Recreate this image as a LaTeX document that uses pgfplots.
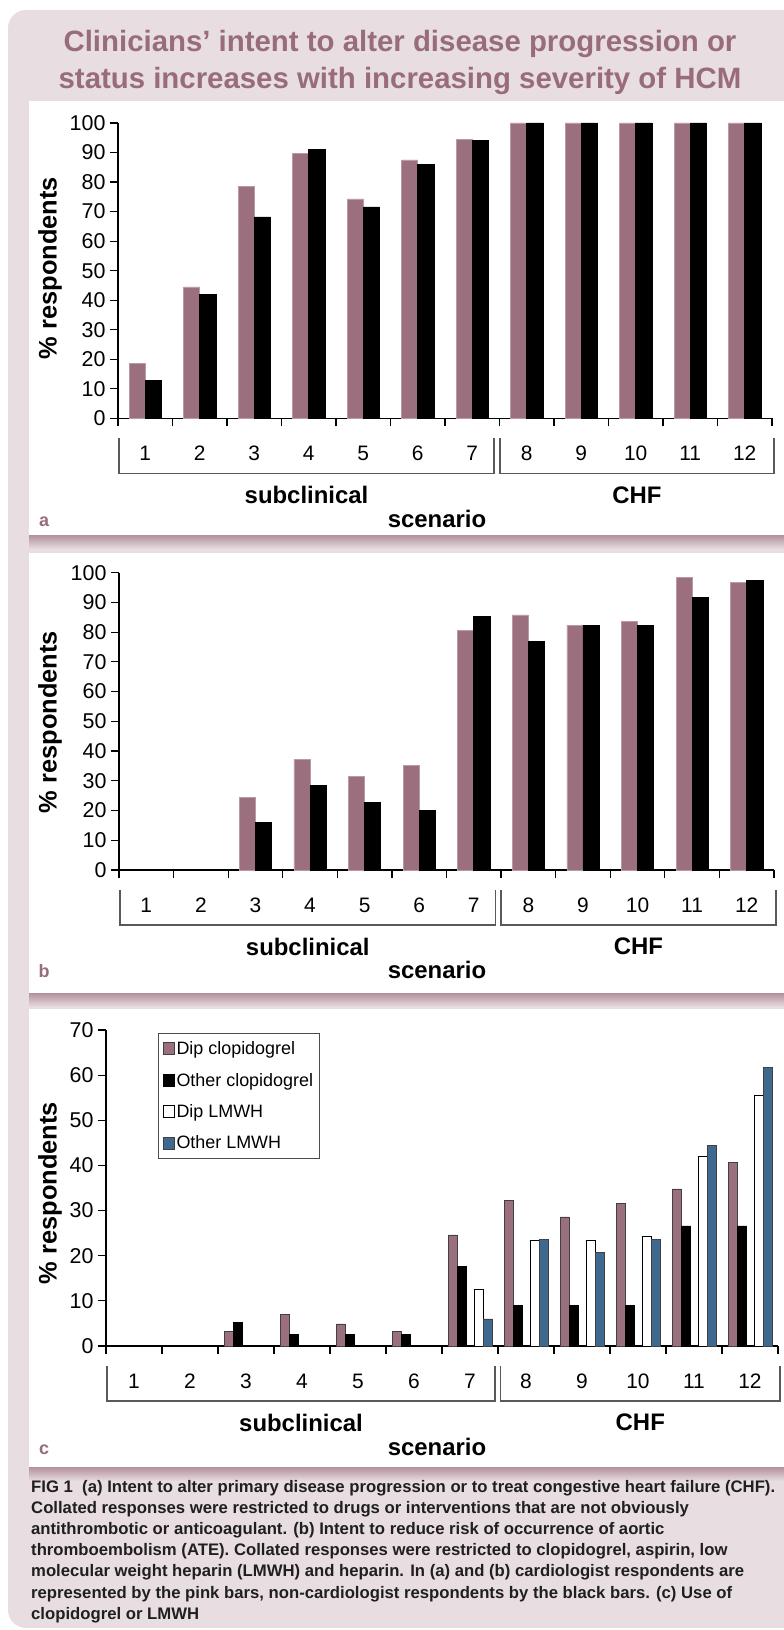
\documentclass[border=0pt]{standalone}
\usepackage{pgfplots}
\pgfplotsset{compat=1.18}
\usepackage{pgfplotstable}
\usepackage{graphicx}
\usepackage{fontspec}
\setmainfont{Liberation Sans}

\definecolor{panelbg}{RGB}{232,222,225}
\definecolor{mauve}{RGB}{152,108,124}
\definecolor{barpink}{RGB}{155,111,126}
\definecolor{barblue}{RGB}{63,105,142}
\definecolor{shadowc}{RGB}{178,144,156}

\pgfplotstableread{
cat dip oth
1 18.6 12.7
2 44.5 41.9
3 78.6 68.2
4 89.6 91.1
5 74.3 71.6
6 87.5 85.9
7 94.5 94.0
8 100 100
9 100 100
10 100 100
11 100 100
12 100 100
}\tabA

\pgfplotstableread{
cat dip oth
1 nan nan
2 nan nan
3 24.4 15.9
4 37.1 28.5
5 31.4 22.8
6 35.3 20.0
7 80.7 85.2
8 85.8 76.8
9 82.4 82.4
10 83.6 82.4
11 98.3 91.6
12 96.6 97.3
}\tabB

\pgfplotstableread{
cat dipclop othclop diplmwh othlmwh
1 nan nan nan nan
2 nan nan nan nan
3 3.3 5.3 nan nan
4 7.0 2.6 nan nan
5 4.9 2.6 nan nan
6 3.3 2.6 nan nan
7 24.6 17.7 12.5 6.0
8 32.2 9.0 23.4 23.7
9 28.6 9.0 23.4 20.8
10 31.6 9.0 24.3 23.7
11 34.8 26.6 42.1 44.4
12 40.7 26.6 55.6 61.8
}\tabC

\pgfplotsset{
  hcmaxis/.style={
    scale only axis, clip=false,
    axis x line=bottom, axis y line=left,
    axis line style={-, line width=1.2bp, black},
    tick style={line width=1.2bp, black},
    major tick length=8bp, tick align=outside,
    xmin=0.5, xmax=12.5, ymin=0,
    xtick={0.5,1.5,...,12.5}, xticklabels={},
    /pgf/number format/assume math mode=true,
    yticklabel style={font=\fontsize{21.5}{21.5}\selectfont, xshift=-1bp},
  },
}

\tikzset{
  numfont/.style={font=\fontsize{21}{21}\selectfont, inner sep=0pt},
  grpfont/.style={font=\bfseries\fontsize{24}{24}\selectfont, inner sep=0pt},
  brk/.style={draw=black!65, line width=1.1bp},
  ylab/.style={rotate=90, font=\bfseries\fontsize{25.5}{25.5}\selectfont, inner sep=0pt},
}

\newcommand\capfont{\bfseries\fontsize{17}{17}\selectfont}
\newcommand\capfirst{FIG 1\ \ (a) Intent to alter primary disease progression or to treat congestive heart failure (CHF).}
\newlength\capw

% #1 Y0, #2 x0, #3 cat width, #4 bracket1 right, #5 bracket2 left, #6 bracket2 right, #7 letter
\newcommand{\groupaxis}[7]{%
  \foreach \k in {1,...,12} \node[numfont] at ({#2+(\k-0.5)*#3},{#1-35}) {\k};
  \draw[brk] ({#2+1},{#1-20}) -- ({#2+1},{#1-55}) -- ({#4},{#1-55}) -- ({#4},{#1-20});
  \draw[brk] ({#5},{#1-20}) -- ({#5},{#1-55}) -- ({#6},{#1-55}) -- ({#6},{#1-20});
  \node[grpfont] at ({(#2+1+#4)/2},{#1-76.7}) {subclinical};
  \node[grpfont] at ({(#5+#6)/2},{#1-76.7}) {CHF};
  \node[grpfont, anchor=base] at (437,{#1-109}) {scenario};
  \node[font=\bfseries\fontsize{18}{18}\selectfont, text=mauve, anchor=base, inner sep=0pt] at (44,{#1-108}) {#7};
}

\begin{document}%
\settowidth\capw{\capfont\capfirst}%
\pgfmathsetmacro\capscale{746.8/\capw}%
\begin{tikzpicture}
\useasboundingbox (0,0) rectangle (784bp,1630bp);
\begin{scope}[x=1bp,y=1bp]
  \fill[white] (0,0) rectangle (784,1630);
  \fill[panelbg, rounded corners=18bp] (8,2) rectangle (830,1620);
  % panel a
  \shade[top color=shadowc, bottom color=panelbg] (29,1081) rectangle (800,1095);
  \fill[white] (29,1095) rectangle (800,1529);
  % panel b
  \shade[top color=shadowc, bottom color=panelbg] (29,623) rectangle (800,637);
  \fill[white] (29,637) rectangle (800,1077);
  % panel c
  \shade[top color=shadowc, bottom color=panelbg] (29,149) rectangle (800,163);
  \fill[white] (29,163) rectangle (800,621);
  % title
  \node[anchor=base, font=\bfseries\fontsize{29.5}{29.5}\selectfont, text=mauve] at (400,1578) {Clinicians’ intent to alter disease progression or};
  \node[anchor=base, font=\bfseries\fontsize{29.5}{29.5}\selectfont, text=mauve] at (400,1541) {status increases with increasing severity of HCM};
  % caption
  \begin{scope}[every node/.style={anchor=base west, inner sep=0pt, font=\capfont, text=black!88}]
    \node at (31,137.5) {\scalebox{\capscale}{\capfirst}};
    \node at (31,116.4) {\scalebox{\capscale}{Collated responses were restricted to drugs or interventions that are not obviously}};
    \node at (31,95.3) {\scalebox{\capscale}{antithrombotic or anticoagulant. (b) Intent to reduce risk of occurrence of aortic}};
    \node at (31,74.2) {\scalebox{\capscale}{thromboembolism (ATE). Collated responses were restricted to clopidogrel, aspirin, low}};
    \node at (31,53.1) {\scalebox{\capscale}{molecular weight heparin (LMWH) and heparin. In (a) and (b) cardiologist respondents are}};
    \node at (31,32.0) {\scalebox{\capscale}{represented by the pink bars, non-cardiologist respondents by the black bars. (c) Use of}};
    \node at (31,10.9) {\scalebox{\capscale}{clopidogrel or LMWH}};
  \end{scope}
  % y labels
  \node[ylab] at (50,1362) {\% respondents};
  \node[ylab] at (50,908) {\% respondents};
  \node[ylab] at (50,437) {\% respondents};
  % group labels
  \groupaxis{1211.7}{118}{54.5}{494}{500}{774}{a}
  \groupaxis{760}{119}{54.58}{495.5}{501}{776}{b}
  \groupaxis{284}{106}{56}{495}{500.6}{780}{c}
\end{scope}

% chart a
\begin{axis}[hcmaxis, at={(118bp,1211.7bp)}, anchor=south west,
  width=654bp, height=295.3bp, ymax=100, ytick={0,10,...,100}]
\addplot[ybar, bar width=0.295, bar shift=-0.1475, fill=barpink, draw=barpink!70!white, line width=0.6bp] table[x=cat,y=dip]{\tabA};
\addplot[ybar, bar width=0.295, bar shift=0.1475, fill=black, draw=black, line width=0.6bp] table[x=cat,y=oth]{\tabA};
\end{axis}

% chart b
\begin{axis}[hcmaxis, at={(119bp,760bp)}, anchor=south west,
  width=655bp, height=297.3bp, ymax=100, ytick={0,10,...,100}]
\addplot[ybar, bar width=0.295, bar shift=-0.1475, fill=barpink, draw=barpink!70!white, line width=0.6bp] table[x=cat,y=dip]{\tabB};
\addplot[ybar, bar width=0.295, bar shift=0.1475, fill=black, draw=black, line width=0.6bp] table[x=cat,y=oth]{\tabB};
\end{axis}

% chart c
\begin{axis}[hcmaxis, at={(106bp,284bp)}, anchor=south west,
  width=672bp, height=316bp, ymax=70, ytick={0,10,...,70},
  legend image code/.code={\draw[#1,/tikz/.cd,yshift=-6bp] (0bp,0bp) rectangle (11bp,12bp);},
  legend style={at={(0.078,0.99)}, anchor=north west, draw=black!70, line width=0.8bp,
    font=\fontsize{18}{21}\selectfont, inner xsep=4bp, inner ysep=6bp, row sep=13bp,
    cells={anchor=west}},
  legend cell align=left]
\addplot[ybar, bar width=0.165, bar shift=-0.31, fill=barpink, draw=black!75, line width=0.7bp] table[x=cat,y=dipclop]{\tabC};
\addlegendentry{Dip clopidogrel}
\addplot[ybar, bar width=0.165, bar shift=-0.145, fill=black, draw=black, line width=0.7bp] table[x=cat,y=othclop]{\tabC};
\addlegendentry{Other clopidogrel}
\addplot[ybar, bar width=0.165, bar shift=0.155, fill=white, draw=black, line width=0.7bp] table[x=cat,y=diplmwh]{\tabC};
\addlegendentry{Dip LMWH}
\addplot[ybar, bar width=0.165, bar shift=0.32, fill=barblue, draw=black!75, line width=0.7bp] table[x=cat,y=othlmwh]{\tabC};
\addlegendentry{Other LMWH}
\end{axis}
\end{tikzpicture}%
\end{document}
